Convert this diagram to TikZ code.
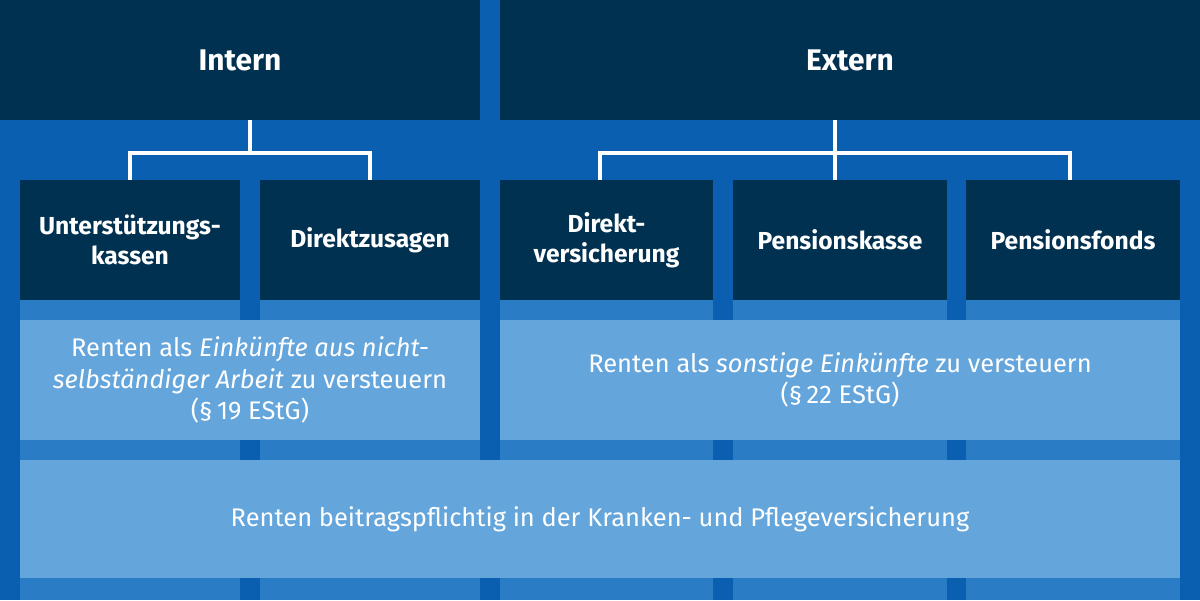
\documentclass[tikz,border=0pt]{standalone}
\usepackage{fontspec}
\setmainfont{Fira Sans}
\definecolor{bg}{HTML}{0A5FB0}
\definecolor{col}{HTML}{2A7CC4}
\definecolor{navy}{HTML}{003150}
\definecolor{light}{HTML}{64A5DC}
\begin{document}
\begin{tikzpicture}[x=0.02cm,y=-0.02cm,
  dark/.style={fill=navy,text=white,font=\bfseries\fontsize{14}{17}\selectfont,align=center,inner sep=0pt},
  lite/.style={fill=light,text=white,font=\fontsize{14.5}{18}\selectfont,align=center,inner sep=0pt},
  conn/.style={draw=white,line width=2.2pt}]
\fill[bg] (0,0) rectangle (1200,600);
\useasboundingbox (0,0) rectangle (1200,600);
\foreach \a/\b in {20/240,260/480,500/713,733/947,966/1180}
  \fill[col] (\a,300) rectangle (\b,600);
\node[dark,minimum width=480*0.02cm,minimum height=120*0.02cm,font=\bfseries\fontsize{17}{20}\selectfont] (intern) at (240,60) {Intern};
\node[dark,minimum width=700*0.02cm,minimum height=120*0.02cm,font=\bfseries\fontsize{17}{20}\selectfont] (extern) at (850,60) {Extern};
\node[dark,minimum width=220*0.02cm,minimum height=120*0.02cm] (uk) at (130,240) {Unterstützungs-\\kassen};
\node[dark,minimum width=220*0.02cm,minimum height=120*0.02cm] (dz) at (370,240) {Direktzusagen};
\node[dark,minimum width=213*0.02cm,minimum height=120*0.02cm] (dv) at (606.5,240) {Direkt-\\versicherung};
\node[dark,minimum width=214*0.02cm,minimum height=120*0.02cm] (pk) at (840,240) {Pensionskasse};
\node[dark,minimum width=214*0.02cm,minimum height=120*0.02cm] (pf) at (1073,240) {Pensionsfonds};
\node[lite,minimum width=460*0.02cm,minimum height=120*0.02cm] (r19) at (250,380) {Renten als \textit{Einkünfte aus nicht-}\\\textit{selbständiger Arbeit} zu versteuern\\(§\,19 EStG)};
\node[lite,minimum width=680*0.02cm,minimum height=120*0.02cm] (r22) at (840,380) {Renten als \textit{sonstige Einkünfte} zu versteuern\\(§\,22 EStG)};
\node[lite,minimum width=1160*0.02cm,minimum height=118*0.02cm] (kv) at (600,519) {Renten beitragspflichtig in der Kranken- und Pflegeversicherung};
\coordinate (ji) at (250,153);
\coordinate (je) at (835,153);
\draw[conn] (intern.south -| ji) -- (ji);
\draw[conn] (uk.north) |- (ji) -| (dz.north);
\draw[conn] (extern.south -| je) -- (je);
\draw[conn] (dv.north -| 600,0) |- (je) -| (pf.north -| 1070,0);
\draw[conn] (je) -- (pk.north -| je);
\end{tikzpicture}
\end{document}
